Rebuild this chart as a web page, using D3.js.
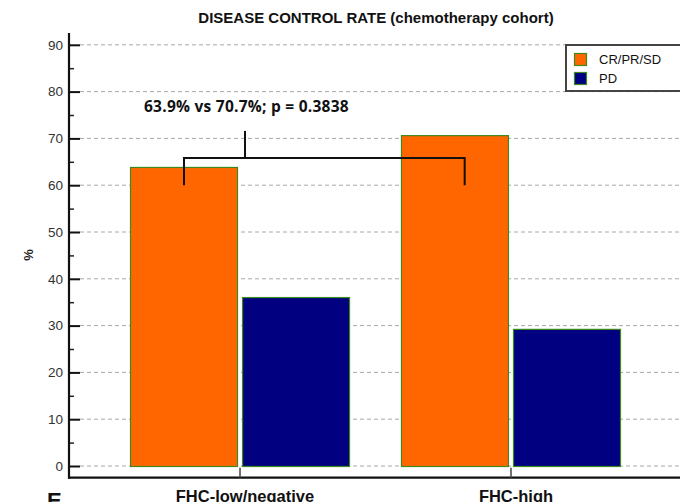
<!DOCTYPE html>
<html>
<head>
<meta charset="utf-8">
<script src="https://cdn.jsdelivr.net/npm/d3@7"></script>
<style>
  html, body { margin: 0; padding: 0; background: #fff; }
  svg { display: block; }
</style>
</head>
<body>
<svg id="chart" width="680" height="502"></svg>
<script>
// Disease control rate by FHC status (chemotherapy cohort)
const categories = ["FHC-low/negative", "FHC-high"];
const seriesNames = ["CR/PR/SD", "PD"];
const crprsd = [63.9, 70.7];
const pd = [36.1, 29.3];
const yTicks = [0, 10, 20, 30, 40, 50, 60, 70, 80, 90];
const yMinorTicks = [5, 15, 25, 35, 45, 55, 65, 75, 85];
const pValue = "0.3838";
// bracket levels (in %): leg bottoms, crossbar, stem top, label baseline
const bracket = { leg: 60, bar: 65.8, stem: 71.6, label: 75.6 };

const colors = { "CR/PR/SD": "#ff6600", "PD": "#000080" };
const barStroke = "#3c8a1e";

const svg = d3.select("#chart");
const W = 680, H = 502;
const axisX = 69;

const y = d3.scaleLinear().domain([-2.5, 92.5]).range([477.7, 33.1]);

const x0 = d3.scaleBand().domain(categories).range([130, 621]).paddingInner(0.188).paddingOuter(0);
const x1 = d3.scaleBand().domain(seriesNames).range([0, x0.bandwidth()]).paddingInner(0.036);

const rows = categories.map((c, i) => ({
  category: c,
  values: [
    { series: "CR/PR/SD", value: crprsd[i] },
    { series: "PD", value: pd[i] }
  ]
}));

// Title
svg.append("text")
  .attr("x", 376).attr("y", 23)
  .attr("text-anchor", "middle")
  .style("font-family", "'Liberation Sans', Arial, sans-serif")
  .style("font-weight", "bold")
  .style("font-size", "15px")
  .attr("fill", "#111")
  .text("DISEASE CONTROL RATE (chemotherapy cohort)");

// Dashed gridlines
svg.append("g")
  .selectAll("line")
  .data(yTicks)
  .join("line")
  .attr("x1", axisX + 11).attr("x2", W)
  .attr("y1", d => y(d)).attr("y2", d => y(d))
  .attr("stroke", "#a8a8a8")
  .attr("stroke-width", 1)
  .attr("stroke-dasharray", "4,3");

// Bars
const groups = svg.append("g")
  .selectAll("g")
  .data(rows)
  .join("g")
  .attr("transform", d => `translate(${x0(d.category)},0)`);

groups.selectAll("rect")
  .data(d => d.values)
  .join("rect")
  .attr("x", d => x1(d.series) + 0.5)
  .attr("y", d => y(d.value) + 0.5)
  .attr("width", x1.bandwidth() - 1)
  .attr("height", d => y(0) - y(d.value))
  .attr("fill", d => colors[d.series])
  .attr("stroke", barStroke)
  .attr("stroke-width", 1.2);

// Y axis: major ticks pointing inward, labels on the left
const yAxis = d3.axisLeft(y).tickValues(yTicks).tickSize(-11).tickPadding(6).tickFormat(d3.format("d"));
const gy = svg.append("g").attr("transform", `translate(${axisX},0)`).call(yAxis);
gy.select(".domain").remove();
gy.selectAll(".tick line").attr("stroke", "#111").attr("stroke-width", 2);
gy.selectAll(".tick text")
  .style("font-family", "'Liberation Sans', Arial, sans-serif")
  .style("font-size", "13.5px")
  .attr("fill", "#333");

const yMinor = d3.axisLeft(y).tickValues(yMinorTicks).tickSize(-5).tickFormat("");
const gym = svg.append("g").attr("transform", `translate(${axisX},0)`).call(yMinor);
gym.select(".domain").remove();
gym.selectAll(".tick line").attr("stroke", "#222").attr("stroke-width", 1.5);

// Axis lines
svg.append("line")
  .attr("x1", axisX).attr("x2", axisX)
  .attr("y1", y.range()[1]).attr("y2", y.range()[0] + 1)
  .attr("stroke", "#111").attr("stroke-width", 2.2);
svg.append("line")
  .attr("x1", axisX - 1).attr("x2", W)
  .attr("y1", y.range()[0]).attr("y2", y.range()[0])
  .attr("stroke", "#111").attr("stroke-width", 2.2);

// X axis: category ticks pointing up, bold labels below
const xAxis = d3.axisBottom(x0).tickSize(-10).tickPadding(14).tickSizeOuter(0);
const gx = svg.append("g").attr("transform", `translate(0,${y.range()[0]})`).call(xAxis);
gx.select(".domain").remove();
gx.selectAll(".tick line").attr("stroke", "#444").attr("stroke-width", 1.5);
gx.selectAll(".tick text")
  .attr("dx", 5)
  .attr("dy", "0.6em")
  .style("font-family", "'Liberation Sans', Arial, sans-serif")
  .style("font-size", "16.5px")
  .style("font-weight", "bold")
  .attr("fill", "#111");

// Y axis title
svg.append("text")
  .attr("transform", "translate(33,255) rotate(-90)")
  .attr("text-anchor", "middle")
  .style("font-family", "'Liberation Sans', Arial, sans-serif")
  .style("font-size", "13px")
  .style("font-weight", "bold")
  .attr("fill", "#222")
  .text("%");

// Comparison bracket between the CR/PR/SD bars
const legL = x0(categories[0]) + x1("CR/PR/SD") + x1.bandwidth() / 2;
const legR = x0(categories[1]) + x1("CR/PR/SD") + x1.bandwidth() * 0.59;
const stemX = x0(categories[0]) + x0.bandwidth() / 2 + 5;
const br = svg.append("g").attr("stroke", "#111").attr("stroke-width", 2).attr("fill", "none");
br.append("path")
  .attr("d", `M${legL},${y(bracket.leg)}V${y(bracket.bar)}H${legR}V${y(bracket.leg)}`);
br.append("line")
  .attr("x1", stemX).attr("x2", stemX)
  .attr("y1", y(bracket.bar)).attr("y2", y(bracket.stem));

const fmt = d3.format(".1f");
svg.append("text")
  .attr("x", 144).attr("y", y(bracket.label))
  .style("font-family", "'Open Sans', 'Noto Sans', sans-serif")
  .style("font-size", "15.5px")
  .style("letter-spacing", "0.25px")
  .style("font-weight", "bold")
  .attr("fill", "#111")
  .text(`${fmt(crprsd[0])}% vs ${fmt(crprsd[1])}%; p = ${pValue}`);

// Legend
const lg = svg.append("g").attr("transform", "translate(566,45)");
lg.append("rect")
  .attr("x", 0).attr("y", 0).attr("width", 130).attr("height", 46)
  .attr("fill", "#fff").attr("stroke", "#444").attr("stroke-width", 2);
seriesNames.forEach((s, i) => {
  lg.append("rect")
    .attr("x", 8.5).attr("y", 8.5 + i * 19)
    .attr("width", 12).attr("height", 12)
    .attr("fill", colors[s]).attr("stroke", barStroke).attr("stroke-width", 1.2);
  lg.append("text")
    .attr("x", 33).attr("y", 19 + i * 19)
    .style("font-family", "'Liberation Sans', Arial, sans-serif")
    .style("font-size", "13px")
    .attr("fill", "#111")
    .text(s);
});

// Panel letter
svg.append("text")
  .attr("x", 47).attr("y", 508)
  .style("font-family", "'Liberation Sans', Arial, sans-serif")
  .style("font-size", "22px")
  .style("font-weight", "bold")
  .attr("fill", "#111")
  .text("E");
</script>
</body>
</html>
